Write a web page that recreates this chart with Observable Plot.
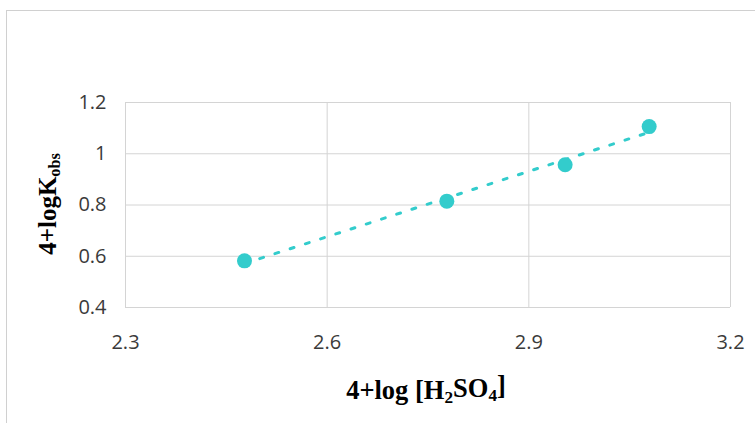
<!DOCTYPE html>
<html>
<head>
<meta charset="utf-8">
<script src="https://cdn.jsdelivr.net/npm/d3@7"></script>
<script src="https://cdn.jsdelivr.net/npm/@observablehq/plot@0.6"></script>
<style>
  html, body { margin: 0; padding: 0; background: #fff; }
  #wrap { position: relative; width: 755px; height: 423px; overflow: hidden; }
  #frame { position: absolute; left: 6px; top: 10px; width: 760px; height: 430px;
           border-left: 1px solid #d0d0d0; border-top: 1px solid #d0d0d0; }
  #chart { position: absolute; left: 0; top: 0; }
</style>
</head>
<body>
<div id="wrap"><div id="frame"></div><div id="chart"></div></div>
<script>
const logAcid = [2.477, 2.778, 2.954, 3.079];
const logKobs = [0.582, 0.815, 0.957, 1.106];
const xTicks = [2.3, 2.6, 2.9, 3.2];
const yTicks = [0.4, 0.6, 0.8, 1.0, 1.2];

const data = logAcid.map((x, i) => ({x, y: logKobs[i]}));
const color = "#33CCCC";
const grid = "#d4d4d4";

const plot = Plot.plot({
  width: 755,
  height: 423,
  marginLeft: 125,
  marginRight: 25,
  marginTop: 102,
  marginBottom: 116,
  style: {fontFamily: "'Open Sans', sans-serif", fontSize: "20px", color: "#3a3a3a", background: "transparent"},
  x: {domain: [2.3, 3.2]},
  y: {domain: [0.4, 1.2]},
  marks: [
    Plot.gridX(xTicks, {stroke: grid, strokeOpacity: 1, strokeWidth: 1}),
    Plot.gridY(yTicks, {stroke: grid, strokeOpacity: 1, strokeWidth: 1}),
    Plot.axisX(xTicks, {tickSize: 0, tickPadding: 27, label: null, tickFormat: d3.format("~g")}),
    Plot.axisY(yTicks, {tickSize: 0, tickPadding: 19, label: null, tickFormat: d3.format("~g")}),
    Plot.linearRegressionY(data, {x: "x", y: "y", ci: 0, stroke: color, strokeWidth: 3, strokeDasharray: "4,12"}),
    Plot.dot(data, {x: "x", y: "y", r: 7.5, fill: color, stroke: "none"})
  ]
});
document.getElementById("chart").appendChild(plot);

const svg = d3.select(plot);
const tfont = "'Liberation Serif', 'Times New Roman', serif";
const xt = svg.append("text")
  .attr("x", 426).attr("y", 399)
  .attr("text-anchor", "middle")
  .attr("font-family", tfont).attr("font-weight", "bold").attr("font-size", 26.5).attr("fill", "#000");
xt.append("tspan").text("4+log [H");
xt.append("tspan").attr("dy", "0.25em").attr("font-size", "65%").text("2");
xt.append("tspan").attr("dy", "-0.25em").text("SO");
xt.append("tspan").attr("dy", "0.25em").attr("font-size", "65%").text("4");
xt.append("tspan").attr("dy", "-0.25em").text("]");

const yt = svg.append("text")
  .attr("transform", "translate(56,204) rotate(-90)")
  .attr("text-anchor", "middle")
  .attr("font-family", tfont).attr("font-weight", "bold").attr("font-size", 25).attr("fill", "#000");
yt.append("tspan").text("4+logK");
yt.append("tspan").attr("dy", "0.25em").attr("font-size", "65%").text("obs");
</script>
</body>
</html>
